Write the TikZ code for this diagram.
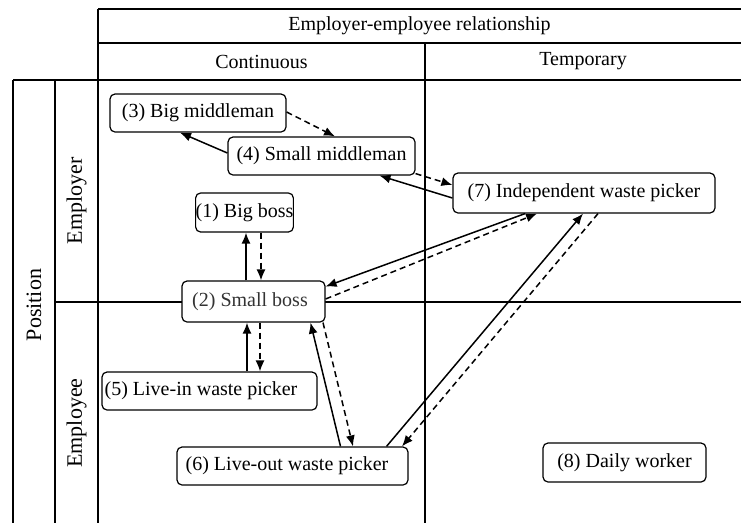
\documentclass[tikz,border=0pt]{standalone}
\usepackage{fontspec}
\setmainfont{Liberation Serif}
\usetikzlibrary{arrows.meta}
\newcommand\txtshift[2]{\hspace*{#1}#2}
\begin{document}
\begin{tikzpicture}[x=1pt,y=-1pt,
  gridline/.style={line width=1.4pt},
  box/.style={draw, line width=1.2pt, rounded corners=5pt, inner sep=0pt, font=\fontsize{20}{24}\selectfont, anchor=center},
  hdr/.style={font=\fontsize{20}{24}\selectfont, inner sep=0pt},
  vhdr/.style={font=\fontsize{22}{26}\selectfont, inner sep=0pt, rotate=90},
  solidarr/.style={line width=1.5pt, -{Latex[length=11pt,width=9pt]}},
  dasharr/.style={line width=1.5pt, dash pattern=on 6pt off 4pt, -{Latex[length=11pt,width=9pt]}},
]
\useasboundingbox (0,0) rectangle (741,523);
% table
\draw[gridline] (98,9) -- (741,9);
\draw[gridline] (98,43) -- (741,43);
\draw[gridline] (13,80) -- (741,80);
\draw[gridline] (55,302) -- (741,302);
\draw[gridline] (98,9) -- (98,523);
\draw[gridline] (425,43) -- (425,523);
\draw[gridline] (13,80) -- (13,523);
\draw[gridline] (55,80) -- (55,523);
% header labels
\node[hdr] (hrel) at (419.5,26) {Employer-employee relationship};
\node[hdr] (hcont) at (261.5,61.5) {Continuous};
\node[hdr] (htemp) at (583,61.5) {Temporary};
\node[vhdr] (hpos) at (34,305) {Position};
\node[vhdr] (hemr) at (76.5,201) {Employer};
\node[vhdr] (heme) at (76.5,423) {Employee};
% boxes
\node[box, minimum width=176pt, minimum height=38pt] (n3) at (198,113) {(3) Big middleman};
\node[box, minimum width=187pt, minimum height=38pt] (n4) at (321.5,156) {(4) Small middleman};
\node[box, minimum width=262pt, minimum height=40pt] (n7) at (584,193) {(7) Independent waste picker};
\node[box, minimum width=91pt, minimum height=39pt] (n1) at (244.5,212.5) {(1) Big boss};
\node[box, fill=white, minimum width=143pt, minimum height=41pt, text=black!80] (n2) at (253.5,301.5) {\txtshift{-7pt}{(2) Small boss}};
\node[box, minimum width=215pt, minimum height=38pt] (n5) at (209.5,391) {\txtshift{-17pt}{(5) Live-in waste picker}};
\node[box, minimum width=231pt, minimum height=38pt] (n6) at (292.5,466) {\txtshift{-11pt}{(6) Live-out waste picker}};
\node[box, minimum width=163pt, minimum height=39pt] (n8) at (624.5,462.5) {(8) Daily worker};
% solid arrows
\draw[solidarr] ([yshift=3pt]n4.west) -- ([xshift=-18pt]n3.south);
\draw[solidarr] ([yshift=-5pt]n7.west) -- ([xshift=58pt]n4.south);
\draw[solidarr] ([xshift=-59pt]n7.south) -- ([yshift=15pt]n2.east);
\draw[solidarr] ([xshift=94pt]n6.north) -- ([xshift=-1pt]n7.south);
\draw[solidarr] ([xshift=48pt]n6.north) -- ([xshift=57pt]n2.south);
\draw[solidarr] ([xshift=37.5pt]n5.north) -- ([xshift=-6.5pt]n2.south);
\draw[solidarr] ([xshift=-7.5pt]n2.north) -- ([xshift=1.5pt]n1.south);
% dashed arrows
\draw[dasharr] ([yshift=1pt]n3.east) -- ([xshift=13.5pt]n4.north);
\draw[dasharr] ([yshift=2pt]n4.south east) -- ([yshift=8pt]n7.west);
\draw[dasharr] ([yshift=2.5pt]n2.east) -- ([xshift=-47pt]n7.south);
\draw[dasharr] ([xshift=14pt]n7.south) -- ([xshift=109.5pt]n6.north);
\draw[dasharr] ([xshift=69.5pt]n2.south) -- ([xshift=60.5pt]n6.north);
\draw[dasharr] ([xshift=6.5pt]n2.south) -- ([xshift=50.5pt]n5.north);
\draw[dasharr] ([xshift=16.5pt]n1.south) -- ([xshift=7.5pt]n2.north);
\end{tikzpicture}
\end{document}
